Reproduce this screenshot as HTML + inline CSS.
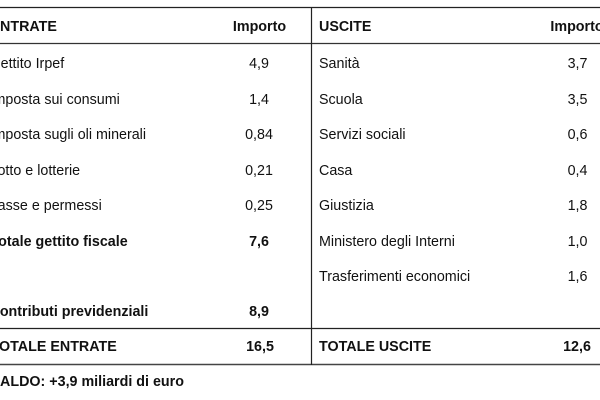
<!DOCTYPE html>
<html>
<head>
<meta charset="utf-8">
<style>
html,body{margin:0;padding:0;background:#fff;}
body{width:600px;height:400px;overflow:hidden;}
svg{display:block;}
text{font-family:"Liberation Sans",Arial,sans-serif;font-size:14.3px;fill:#111;}
.b{font-weight:bold;}
.m{text-anchor:middle;}
</style>
</head>
<body>
<svg width="600" height="400" viewBox="0 0 600 400" xmlns="http://www.w3.org/2000/svg">
  <!-- lines -->
  <line x1="0" y1="7.5" x2="600" y2="7.5" stroke="#222" stroke-width="1.2"/>
  <line x1="0" y1="43.5" x2="600" y2="43.5" stroke="#333" stroke-width="1.2"/>
  <line x1="0" y1="328.5" x2="600" y2="328.5" stroke="#222" stroke-width="1.2"/>
  <line x1="0" y1="364.5" x2="600" y2="364.5" stroke="#444" stroke-width="1.4"/>
  <line x1="311.5" y1="7" x2="311.5" y2="365" stroke="#222" stroke-width="1.2"/>

  <!-- header -->
  <text class="b" x="-9.5" y="31">ENTRATE</text>
  <text class="b m" x="259.5" y="31">Importo</text>
  <text class="b" x="319" y="31">USCITE</text>
  <text class="b m" x="577" y="31">Importo</text>

  <!-- left rows -->
  <text x="-10.5" y="68">Gettito Irpef</text>
  <text class="m" x="259" y="68">4,9</text>
  <text x="-10.5" y="104">Imposta sui consumi</text>
  <text class="m" x="259" y="104">1,4</text>
  <text x="-10.5" y="139">Imposta sugli oli minerali</text>
  <text class="m" x="259" y="139">0,84</text>
  <text x="-10.5" y="175">Lotto e lotterie</text>
  <text class="m" x="259" y="175">0,21</text>
  <text x="-9.5" y="210">Tasse e permessi</text>
  <text class="m" x="259" y="210">0,25</text>
  <text class="b" x="-9.5" y="246">Totale gettito fiscale</text>
  <text class="b m" x="259" y="246">7,6</text>
  <text class="b" x="-10.5" y="316">Contributi previdenziali</text>
  <text class="b m" x="259" y="316">8,9</text>
  <text class="b" x="-9.5" y="351">TOTALE ENTRATE</text>
  <text class="b m" x="260" y="351">16,5</text>

  <!-- right rows -->
  <text x="319" y="68">Sanità</text>
  <text class="m" x="577.5" y="68">3,7</text>
  <text x="319" y="104">Scuola</text>
  <text class="m" x="577.5" y="104">3,5</text>
  <text x="319" y="139">Servizi sociali</text>
  <text class="m" x="577.5" y="139">0,6</text>
  <text x="319" y="175">Casa</text>
  <text class="m" x="577.5" y="175">0,4</text>
  <text x="319" y="210">Giustizia</text>
  <text class="m" x="577.5" y="210">1,8</text>
  <text x="319" y="246">Ministero degli Interni</text>
  <text class="m" x="577.5" y="246">1,0</text>
  <text x="319" y="281">Trasferimenti economici</text>
  <text class="m" x="577.5" y="281">1,6</text>
  <text class="b" x="319" y="351">TOTALE USCITE</text>
  <text class="b m" x="577" y="351">12,6</text>

  <!-- saldo -->
  <text class="b" x="-9.5" y="386">SALDO: +3,9 miliardi di euro</text>
</svg>
</body>
</html>
